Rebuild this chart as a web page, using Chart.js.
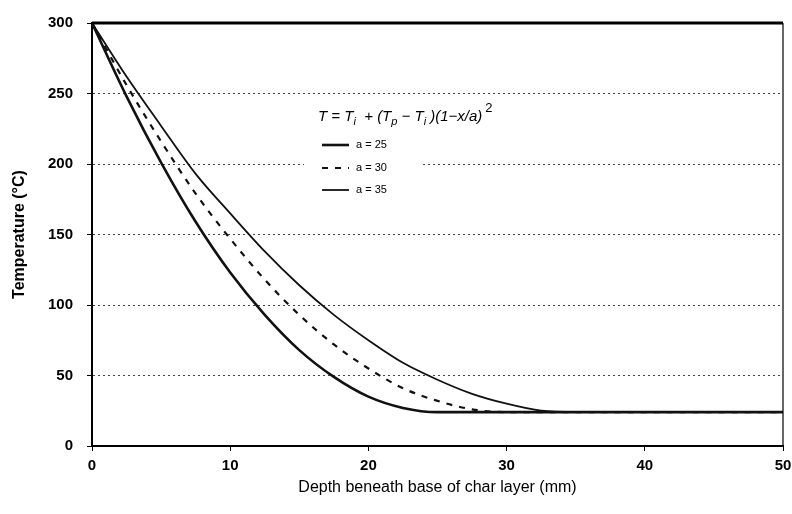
<!DOCTYPE html>
<html>
<head>
<meta charset="utf-8">
<script src="https://cdn.jsdelivr.net/npm/chart.js@4.4.1/dist/chart.umd.min.js"></script>
<style>
  html, body { margin: 0; padding: 0; background: #fff; }
  #wrap { width: 792px; height: 514px; }
</style>
</head>
<body>
<div id="wrap"><canvas id="chart" width="792" height="514"></canvas></div>
<script>
// values
const seriesLabels = ["a = 25", "a = 30", "a = 35"];
const depth25 = [0, 2.5, 5, 7.5, 10, 12.5, 15, 17.5, 20, 22.5, 25, 50];
const temp25 = [300, 248, 201, 159, 123, 93, 68, 49, 35, 27, 24, 24];
const depth30 = [0, 2.5, 5, 7.5, 10, 12.5, 15, 17.5, 20, 22.5, 25, 27.5, 30, 50];
const temp30 = [300, 256, 216, 179, 147, 118, 93, 72, 55, 41, 32, 26, 24, 24];
const depth35 = [0, 2.5, 5, 7.5, 10, 12.5, 15, 17.5, 20, 22.5, 25, 27.5, 30, 32.5, 35, 50];
const temp35 = [300, 262, 227, 193, 165, 138, 114, 93, 75, 59, 47, 37, 30, 25, 24, 24];
const xTicks = [0, 10, 20, 30, 40, 50];
const yTicks = [0, 50, 100, 150, 200, 250, 300];

const font = '"Liberation Sans", Arial, sans-serif';

function toPoints(xs, ys) {
    return xs.map((x, i) => ({x: x, y: ys[i]}));
}

// frame: thick top line, thin right line
const framePlugin = {
    id: "frame",
    afterDatasetsDraw(chart) {
        const {ctx, chartArea: a} = chart;
        ctx.save();
        ctx.strokeStyle = "#000";
        ctx.lineWidth = 3;
        ctx.beginPath();
        ctx.moveTo(a.left, a.top);
        ctx.lineTo(a.right, a.top);
        ctx.stroke();
        ctx.lineWidth = 1.2;
        ctx.beginPath();
        ctx.moveTo(a.right, a.top);
        ctx.lineTo(a.right, a.bottom);
        ctx.stroke();
        ctx.restore();
    }
};

// legend box with the formula, sitting inside the plot
const legendPlugin = {
    id: "innerLegend",
    afterDraw(chart) {
        const ctx = chart.ctx;
        ctx.save();
        ctx.fillStyle = "#fff";
        ctx.fillRect(304, 130, 116, 72);

        // formula
        let x = 318;
        const y = 117;
        ctx.fillStyle = "#000";
        ctx.textBaseline = "middle";
        const parts = [
            ["T = T", 0], ["i", 1], ["  + (T", 0], ["p", 1], [" \u2212 T", 0], ["i", 1], [" )(1\u2212x/a)", 0], ["2", 2]
        ];
        parts.forEach(([txt, kind]) => {
            if (kind === 0) {
                ctx.font = "italic 15px " + font;
                ctx.fillText(txt, x, y);
            } else if (kind === 1) {
                ctx.font = "italic 11px " + font;
                ctx.fillText(txt, x, y + 5);
            } else {
                ctx.font = "13px " + font;
                ctx.fillText(txt, x + 3, y - 9);
            }
            x += ctx.measureText(txt).width;
        });

        // entries
        const rows = [145, 168, 190];
        chart.data.datasets.forEach((ds, i) => {
            const ry = rows[i];
            ctx.strokeStyle = ds.borderColor;
            ctx.lineWidth = ds.borderWidth;
            ctx.setLineDash(ds.borderDash || []);
            ctx.beginPath();
            ctx.moveTo(322, ry);
            ctx.lineTo(349, ry);
            ctx.stroke();
            ctx.setLineDash([]);
            ctx.font = "11px " + font;
            ctx.fillStyle = "#000";
            ctx.fillText(ds.label, 356, ry);
        });
        ctx.restore();
    }
};

const ctx = document.getElementById("chart");
new Chart(ctx, {
    type: "line",
    data: {
        datasets: [
            {
                label: seriesLabels[0],
                data: toPoints(depth25, temp25),
                borderColor: "#111",
                borderWidth: 2.6,
                pointRadius: 0,
                cubicInterpolationMode: "monotone"
            },
            {
                label: seriesLabels[1],
                data: toPoints(depth30, temp30),
                borderColor: "#111",
                borderWidth: 2.2,
                borderDash: [6, 7],
                pointRadius: 0,
                cubicInterpolationMode: "monotone"
            },
            {
                label: seriesLabels[2],
                data: toPoints(depth35, temp35),
                borderColor: "#111",
                borderWidth: 1.8,
                pointRadius: 0,
                cubicInterpolationMode: "monotone"
            }
        ]
    },
    plugins: [framePlugin, legendPlugin],
    options: {
        responsive: false,
        animation: false,
        devicePixelRatio: 1,
        layout: { padding: { top: 19, right: 9, left: 0, bottom: 0 } },
        plugins: { legend: { display: false }, tooltip: { enabled: false } },
        scales: {
            x: {
                type: "linear",
                min: 0,
                max: 50,
                afterBuildTicks: (s) => { s.ticks = xTicks.map(v => ({value: v})); },
                afterFit: (s) => { s.height = 68; s.paddingRight = 0; s.paddingLeft = 0; },
                grid: { drawOnChartArea: false, drawTicks: true, tickLength: 5, color: "#000", lineWidth: 1 },
                border: { color: "#000", width: 2 },
                ticks: { color: "#000", padding: 6, maxRotation: 0, font: { family: font, size: 15, weight: "bold" } },
                title: {
                    display: true,
                    text: "Depth beneath base of char layer (mm)",
                    color: "#000",
                    padding: { bottom: 17 },
                    font: { family: font, size: 16 }
                }
            },
            y: {
                min: 0,
                max: 300,
                afterBuildTicks: (s) => { s.ticks = yTicks.map(v => ({value: v})); },
                afterFit: (s) => { s.width = 92; },
                grid: {
                    color: (c) => (c.tick && (c.tick.value === 0 || c.tick.value === 300)) ? "rgba(0,0,0,0)" : "#444",
                    tickColor: "#000",
                    lineWidth: 1,
                    tickLength: 5
                },
                border: { color: "#000", width: 2, dash: [2, 3] },
                ticks: { color: "#000", padding: 14, font: { family: font, size: 15, weight: "bold" } },
                title: {
                    display: true,
                    text: "Temperature (\u00b0C)",
                    color: "#000",
                    padding: { top: 10 },
                    font: { family: font, size: 16, weight: "bold" }
                }
            }
        }
    }
});
</script>
</body>
</html>
